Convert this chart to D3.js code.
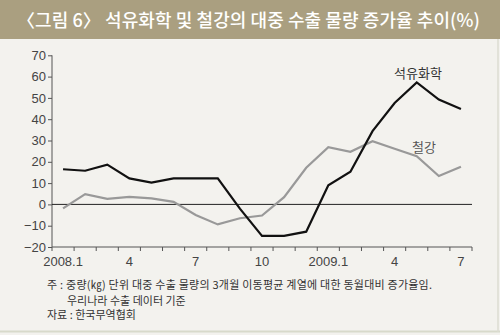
<!DOCTYPE html>
<html><head><meta charset="utf-8">
<script src="https://cdn.jsdelivr.net/npm/d3@7"></script>
<style>
html,body{margin:0;padding:0;background:#f3f2ee;}
svg{display:block;}
</style></head>
<body>
<script>
const months = ["2008.1","2","3","4","5","6","7","8","9","10","11","12","2009.1","2","3","4","5","6","7"];
const tickLabels = ["2008.1","","","4","","","7","","","10","","","2009.1","","","4","","","7"];
const petrochem = [16.5, 15.8, 18.7, 12.2, 10.2, 12.2, 12.2, 12.2, -2, -14.8, -14.8, -12.8, 9.0, 15.3, 34.4, 47.6, 57.3, 49.2, 44.8];
const steel = [-1.9, 4.8, 2.6, 3.5, 2.8, 1.2, -5.0, -9.4, -6.5, -5.2, 3.4, 17.2, 26.9, 24.7, 29.7, 26.1, 22.6, 13.3, 17.7];
const yTicks = [-20, -10, 0, 10, 20, 30, 40, 50, 60, 70];
const title = "〈그림 6〉 석유화학 및 철강의 대중 수출 물량 증가율 추이(%)";
const notes = ["주 : 중량(㎏) 단위 대중 수출 물량의 3개월 이동평균 계열에 대한 동월대비 증가율임.", "우리나라 수출 데이터 기준", "자료 : 한국무역협회"];
const seriesNames = ["석유화학", "철강"];

const W = 500, H = 335;
const svg = d3.select("body").append("svg").attr("width", W).attr("height", H);
const font = "'Noto Sans CJK KR', 'Noto Sans', sans-serif";

svg.append("rect").attr("x",0).attr("y",0).attr("width",W).attr("height",H).attr("fill","#f3f2ee");
// borders
svg.append("line").attr("x1",0).attr("x2",W).attr("y1",331.5).attr("y2",331.5).attr("stroke","#d8dacb").attr("stroke-width",2);
svg.append("line").attr("x1",498).attr("x2",498).attr("y1",39).attr("y2",332).attr("stroke","#dcdcd2").attr("stroke-width",1.5);

// title bar
svg.append("rect").attr("x",0).attr("y",0).attr("width",W).attr("height",39).attr("fill","#aa9f80");
svg.append("text").attr("x",17).attr("y",26.5).attr("fill","#fff").attr("font-family",font)
  .attr("font-size",18).attr("font-weight",500)
  .attr("textLength",463).attr("lengthAdjust","spacing").text(title);

const x = d3.scaleBand().domain(d3.range(months.length)).range([52, 472]).padding(0);
const y = d3.scaleLinear().domain([-20, 70]).range([247, 55.3]);

// y axis
const yAxis = d3.axisLeft(y).tickValues(yTicks).tickSize(4).tickPadding(2)
  .tickFormat(d => d < 0 ? "\u2212" + Math.abs(d) : d);
const gy = svg.append("g").attr("transform","translate(52,0)").call(yAxis);
gy.select(".domain").attr("stroke","#555").attr("d", `M-0,${y(70)}V${y(-20)}`);
gy.selectAll(".tick line").attr("stroke","#555");
gy.selectAll(".tick text").attr("font-family","Arial, 'Liberation Sans', sans-serif").attr("font-size",13).attr("fill","#444");

// x axis
const xAxis = d3.axisBottom(x).tickSize(0).tickFormat(i => tickLabels[i]);
const gx = svg.append("g").attr("transform",`translate(0,${y(-20)})`).call(xAxis);
gx.select(".domain").attr("stroke","#555").attr("d", `M52,0H472`);
gx.selectAll(".tick text").attr("font-family","Arial, 'Liberation Sans', sans-serif").attr("font-size",13).attr("fill","#444").attr("dy","1.2em");
// boundary ticks
const bounds = d3.range(months.length + 1).map(i => i < months.length ? x(i) : x.range()[1]);
gx.selectAll(".btick").data(bounds).join("line").attr("class","btick")
  .attr("x1",d=>d).attr("x2",d=>d).attr("y1",0).attr("y2",4).attr("stroke","#555");

// zero line
svg.append("line").attr("x1",52).attr("x2",472).attr("y1",y(0)).attr("y2",y(0)).attr("stroke","#222").attr("stroke-width",1);

const line = d3.line().x((d,i) => x(i) + x.bandwidth()/2).y(d => y(d));
svg.append("path").datum(steel).attr("d",line).attr("fill","none").attr("stroke","#999").attr("stroke-width",2.2);
svg.append("path").datum(petrochem).attr("d",line).attr("fill","none").attr("stroke","#111").attr("stroke-width",2.2);

svg.append("text").attr("x",418).attr("y",78).attr("text-anchor","middle").attr("font-family",font).attr("font-size",13).attr("fill","#333").text(seriesNames[0]);
svg.append("text").attr("x",424).attr("y",152).attr("text-anchor","middle").attr("font-family",font).attr("font-size",13).attr("fill","#555").text(seriesNames[1]);

// notes
const nf = 11;
svg.append("text").attr("x",47).attr("y",289).attr("font-family",font).attr("font-size",nf).attr("fill","#333")
  .attr("textLength",385).attr("lengthAdjust","spacing").text(notes[0]);
svg.append("text").attr("x",67).attr("y",305).attr("font-family",font).attr("font-size",nf).attr("fill","#333").text(notes[1]);
svg.append("text").attr("x",47).attr("y",319).attr("font-family",font).attr("font-size",nf).attr("fill","#333").text(notes[2]);
</script>
</body></html>
